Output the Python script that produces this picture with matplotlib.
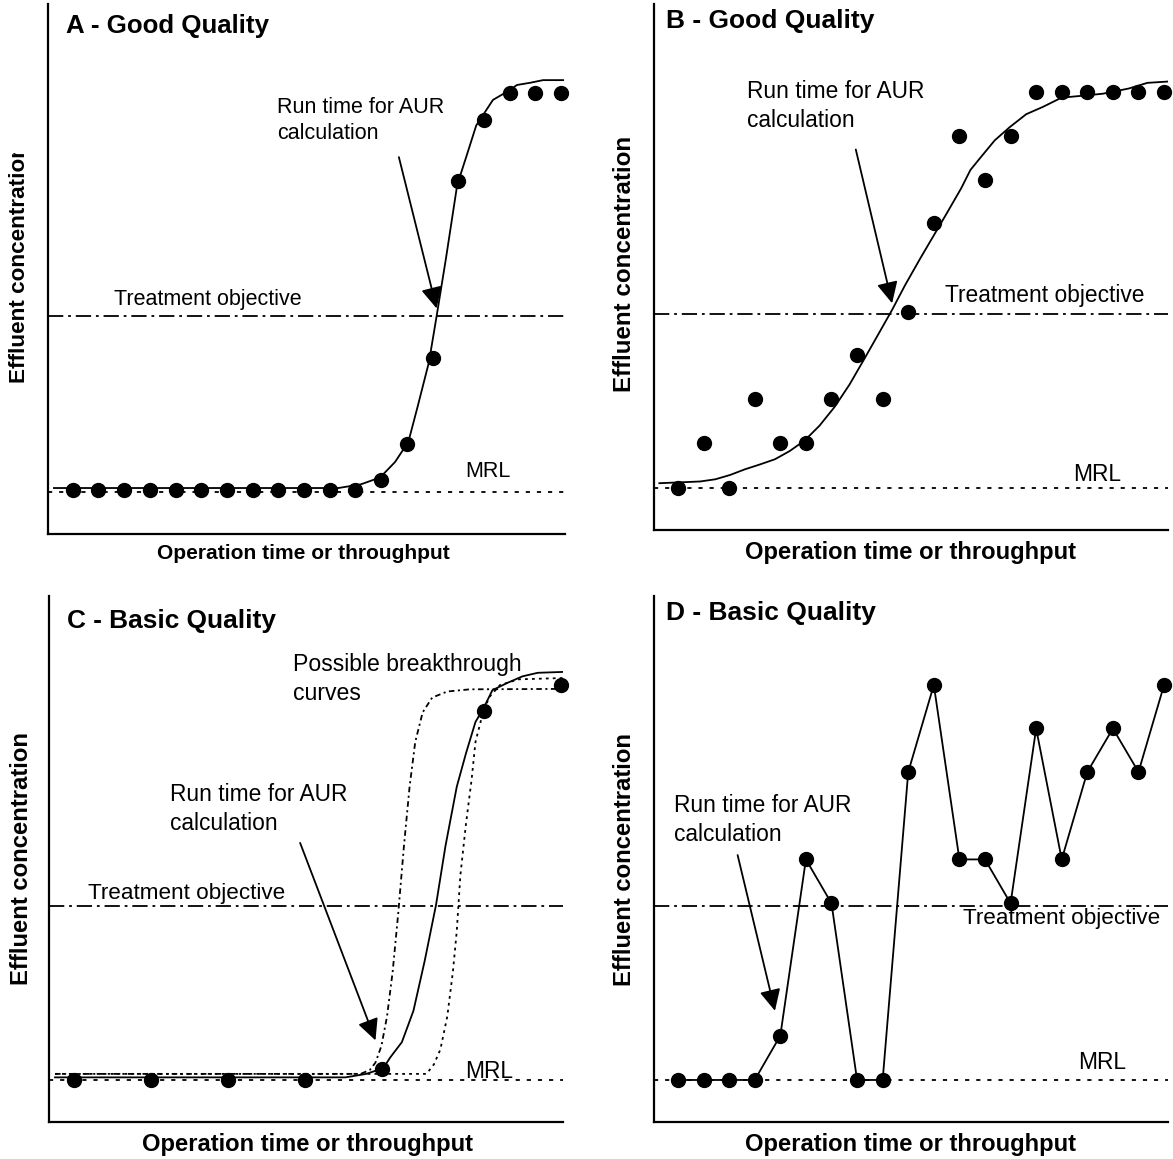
import matplotlib
matplotlib.use("Agg")
import matplotlib.pyplot as plt
from matplotlib.transforms import Bbox, TransformedBbox

plt.rcParams['font.family'] = ['Liberation Sans', 'DejaVu Sans']
plt.rcParams['lines.scale_dashes'] = False

#%% Data (x = sample index, y = concentration, MRL = 10, objective = 50)
MRL = 10
OBJ = 50

# A - Good Quality
a_pts_x = [0, 1, 2, 3, 4, 5, 6, 7, 8, 9, 10, 11, 12, 13, 14, 15, 16, 17, 18, 19]
a_pts_y = [10.5, 10.5, 10.5, 10.5, 10.5, 10.5, 10.5, 10.5, 10.5, 10.5, 10.5, 10.5,
           12.7, 20.8, 40.5, 80.6, 94.5, 100.6, 100.6, 100.6]
a_fit_x = [-0.73, 10.34, 11.22, 11.96, 12.54, 13.06, 13.42, 13.86, 14.16, 14.52, 14.96,
           15.33, 15.70, 16.35, 16.82, 17.29, 17.8, 18.3, 19.08]
a_fit_y = [10.9, 10.9, 11.75, 13.3, 16.8, 21.4, 29.4, 39.5, 50.0, 63.0, 79.8,
           86.5, 93.3, 99.1, 100.7, 102.5, 103.0, 103.6, 103.6]

# B - Good Quality
b_pts_x = [0, 1, 2, 3, 4, 5, 6, 7, 8, 9, 10, 11, 12, 13, 14, 15, 16, 17, 18, 19]
b_pts_y = [10.0, 20.3, 10.0, 30.5, 20.3, 20.3, 30.5, 40.5, 30.5, 50.4, 70.9, 90.7,
           80.6, 90.7, 100.9, 100.9, 100.9, 100.9, 100.9, 100.9]
b_fit_x = [-0.73, 0.87, 1.46, 2.04, 2.62, 3.20, 3.79, 4.37, 4.95, 5.53, 6.12, 6.70, 7.28,
           7.86, 8.37, 8.88, 9.46, 9.97, 10.48, 11.07, 11.43, 11.79, 12.38, 12.96, 13.61,
           14.27, 14.99, 15.73, 16.60, 17.62, 18.35, 19.15]
b_fit_y = [11.1, 11.5, 12.0, 13.0, 14.3, 15.4, 16.6, 18.5, 20.9, 24.3, 28.6, 33.7, 39.6,
           45.6, 50.9, 56.6, 62.6, 67.7, 72.8, 78.8, 83.0, 85.6, 89.8, 92.8, 95.8,
           97.5, 99.6, 100.0, 100.5, 101.7, 103.0, 103.3]

# C - Basic Quality
c_pts_x = [0, 3, 6, 9, 12, 16, 19]
c_pts_y = [10.0, 10.0, 10.0, 10.0, 12.6, 94.9, 100.8]
c_fit_x = [-0.74, 10.59, 11.40, 12.06, 12.35, 12.79, 13.24, 13.68, 14.12, 14.49, 14.93,
           15.29, 15.66, 15.96, 16.32, 16.91, 17.50, 18.09, 19.07]
c_fit_y = [10.6, 10.6, 11.4, 12.7, 15.3, 18.7, 25.9, 37.4, 50.2, 63.8, 77.4,
           85.1, 92.3, 95.3, 99.6, 101.3, 102.8, 103.6, 103.8]
c_early_x = [-0.74, 11.18, 11.54, 11.76, 11.99, 12.21, 12.43, 12.65, 12.87, 13.09, 13.31,
             13.60, 13.97, 14.56, 15.44, 19.07]
c_early_y = [11.4, 11.4, 12.3, 14.0, 17.8, 24.6, 34.9, 48.5, 63.8, 77.4, 87.7,
             94.5, 97.9, 99.3, 99.8, 99.9]
c_late_x = [-0.74, 13.75, 14.04, 14.29, 14.56, 14.78, 14.93, 15.07, 15.29, 15.51, 15.66,
            15.88, 16.18, 16.62, 17.35, 19.07]
c_late_y = [11.4, 11.4, 13.6, 17.0, 24.6, 34.9, 44.2, 57.0, 68.9, 79.1, 87.7,
            92.8, 97.9, 100.8, 102.1, 102.4]

# D - Basic Quality
d_pts_x = [0, 1, 2, 3, 4, 5, 6, 7, 8, 9, 10, 11, 12, 13, 14, 15, 16, 17, 18, 19]
d_pts_y = [10, 10, 10, 10, 20.2, 60.7, 50.6, 10, 10, 80.8, 100.8, 60.7, 60.7, 50.6,
           90.8, 60.7, 80.8, 90.8, 80.8, 100.8]

#%% Figure
W, H = 1173, 1159
fig = plt.figure(figsize=(W / 100, H / 100), dpi=100)

def panel(left, top, right, bottom, xlim, ylim):
    ax = fig.add_axes([left / W, 1 - bottom / H, (right - left) / W, (bottom - top) / H])
    ax.set_xlim(*xlim)
    ax.set_ylim(*ylim)
    ax.set_xticks([])
    ax.set_yticks([])
    for s in ['top', 'right']:
        ax.spines[s].set_visible(False)
    for s in ['left', 'bottom']:
        ax.spines[s].set_linewidth(1.6)
    ax.patch.set_alpha(0)
    ax.axhline(OBJ, color='k', lw=1.3, ls=(0, (11, 3.5, 2, 3.5)), zorder=1)
    ax.axhline(MRL, color='k', lw=1.3, ls=(0, (3, 5)), zorder=1)
    return ax

def arrow(ax, start, tip):
    ax.annotate('', xy=tip, xytext=start,
                arrowprops=dict(arrowstyle='-|>,head_length=0.65,head_width=0.32',
                                mutation_scale=20, lw=1.3, color='k',
                                shrinkA=0, shrinkB=0))

dot = dict(marker='o', ms=10, color='k', ls='none', zorder=5, clip_on=False)

axA = panel(48.3, 4, 564.9, 534, (-0.95, 19.15), (0.45, 120.9))
axB = panel(653.7, 4, 1167.9, 530, (-0.95, 19.15), (0.36, 121.1))
axC = panel(48.6, 595.8, 562.9, 1122, (-0.99, 19.07), (0.34, 121.3))
axD = panel(653.7, 595.8, 1167.9, 1122, (-0.95, 19.15), (0.34, 121.3))

# A
axA.plot(a_fit_x, a_fit_y, color='k', lw=1.3, zorder=3)
axA.plot(a_pts_x, a_pts_y, **dot)
axA.text(-0.25, 115.8, 'A - Good Quality', fontsize=18.6, fontweight='bold', va='center')
axA.text(7.95, 94.5, 'Run time for AUR\ncalculation', fontsize=15.5, va='center',
         linespacing=1.32)
axA.text(1.61, 53.8, 'Treatment objective', fontsize=15.5, va='center')
axA.text(15.29, 14.7, 'MRL', fontsize=15.5, va='center')
arrow(axA, (12.69, 86.1), (14.16, 51.7))

# B
axB.plot(b_fit_x, b_fit_y, color='k', lw=1.3, zorder=3)
axB.plot(b_pts_x, b_pts_y, **dot)
axB.text(-0.47, 117.3, 'B - Good Quality', fontsize=19, fontweight='bold', va='center')
axB.text(2.69, 97.7, 'Run time for AUR\ncalculation', fontsize=16.4, va='center',
         linespacing=1.3)
axB.text(10.45, 54.3, 'Treatment objective', fontsize=16.4, va='center')
axB.text(15.43, 13.2, 'MRL', fontsize=16.4, va='center')
arrow(axB, (6.95, 87.7), (8.37, 52.4))

# C
axC.plot(c_early_x, c_early_y, color='k', lw=1.3, ls=(0, (4, 2.5, 1.5, 2.5)), zorder=2)
axC.plot(c_late_x, c_late_y, color='k', lw=1.3, ls=(0, (2, 3)), zorder=2)
axC.plot(c_fit_x, c_fit_y, color='k', lw=1.3, zorder=3)
axC.plot(c_pts_x, c_pts_y, **dot)
axC.text(-0.29, 115.6, 'C - Basic Quality', fontsize=18.9, fontweight='bold', va='center')
axC.text(8.53, 102.2, 'Possible breakthrough\ncurves', fontsize=16.6, va='center',
         linespacing=1.3)
axC.text(3.75, 72.3, 'Run time for AUR\ncalculation', fontsize=16.4, va='center',
         linespacing=1.3)
axC.text(0.54, 52.9, 'Treatment objective', fontsize=16.2, va='center')
axC.text(15.26, 11.9, 'MRL', fontsize=16.4, va='center')
arrow(axC, (8.82, 64.5), (11.76, 19.1))

# D
axD.plot(d_pts_x, d_pts_y, color='k', lw=1.3, zorder=3)
axD.plot(d_pts_x, d_pts_y, **dot)
axD.text(-0.47, 117.4, 'D - Basic Quality', fontsize=19, fontweight='bold', va='center')
axD.text(-0.15, 69.8, 'Run time for AUR\ncalculation', fontsize=16.4, va='center',
         linespacing=1.3)
axD.text(11.14, 47.2, 'Treatment objective', fontsize=16.2, va='center')
axD.text(15.65, 14.0, 'MRL', fontsize=16.4, va='center')
arrow(axD, (2.33, 61.7), (3.79, 25.9))

#%% Axis labels placed in figure pixels
def ftext(x, y, s, size, rot=0):
    return fig.text(x / W, 1 - y / H, s, fontsize=size, fontweight='bold',
                    ha='center', va='center', rotation=rot)

ftext(303.5, 553.4, 'Operation time or throughput', 15.1)
ftext(910.8, 552.5, 'Operation time or throughput', 17.1)
ftext(307, 1144, 'Operation time or throughput', 17.1)
ftext(910.8, 1144, 'Operation time or throughput', 17.1)

yA = ftext(19.9, 263.7, 'Effluent concentration', 16.2, rot=90)
yA.set_clip_box(TransformedBbox(Bbox([[0, 0], [1, 1 - 153 / H]]), fig.transFigure))
yA.set_clip_on(True)
ftext(624, 264.4, 'Effluent concentration', 17.4, rot=90)
ftext(21.2, 858.9, 'Effluent concentration', 17.2, rot=90)
ftext(624, 859, 'Effluent concentration', 17.2, rot=90)

fig.savefig('out.png', dpi=100)
